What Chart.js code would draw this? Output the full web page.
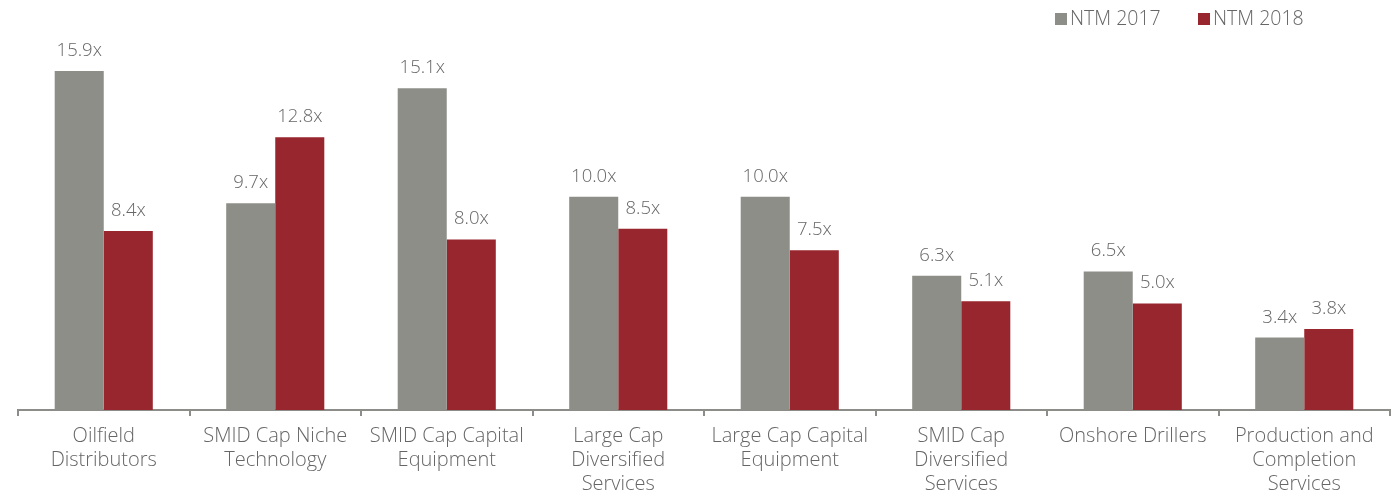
<!DOCTYPE html>
<html>
<head>
<meta charset="utf-8">
<script src="https://cdn.jsdelivr.net/npm/chart.js@4.4.1/dist/chart.umd.min.js"></script>
<style>
  html, body { margin: 0; padding: 0; background: #fff; }
  .wrap { width: 1397px; height: 494px; position: relative; }
</style>
</head>
<body>
<div class="wrap"><canvas id="myChart"></canvas></div>
<script>
const categories = [
    ['Oilfield', 'Distributors'],
    ['SMID Cap Niche', 'Technology'],
    ['SMID Cap Capital', 'Equipment'],
    ['Large Cap', 'Diversified', 'Services'],
    ['Large Cap Capital', 'Equipment'],
    ['SMID Cap', 'Diversified', 'Services'],
    ['Onshore Drillers'],
    ['Production and', 'Completion', 'Services']
]
const ntm2017 = [15.9, 9.7, 15.1, 10.0, 10.0, 6.3, 6.5, 3.4]
const ntm2018 = [8.4, 12.8, 8.0, 8.5, 7.5, 5.1, 5.0, 3.8]
const seriesNames = ['NTM 2017', 'NTM 2018']

const grayCol = '#8e8e88'
const redCol = '#98262e'
const textCol = '#666666'
const fontFam = '"Open Sans", Lato, sans-serif'

// value labels over each bar
const barLabels = {
    id: 'barLabels',
    afterDatasetsDraw(chart) {
        const c = chart.ctx
        c.save()
        c.font = '300 18.5px ' + fontFam
        c.fillStyle = textCol
        c.textAlign = 'center'
        c.textBaseline = 'alphabetic'
        chart.data.datasets.forEach(function (ds, i) {
            chart.getDatasetMeta(i).data.forEach(function (bar, j) {
                c.fillText(ds.data[j].toFixed(1) + 'x', bar.x, bar.y - 15)
            })
        })
        c.restore()
    }
}

// small legend at top right
const topLegend = {
    id: 'topLegend',
    afterDraw(chart) {
        const c = chart.ctx
        c.save()
        c.font = '300 19.5px ' + fontFam
        c.textBaseline = 'middle'
        c.textAlign = 'left'
        let x = 1055
        const y = 19
        chart.data.datasets.forEach(function (ds) {
            c.fillStyle = ds.backgroundColor
            c.fillRect(x, y - 6, 12, 12)
            c.fillStyle = textCol
            c.fillText(ds.label, x + 15, y)
            x += 143
        })
        c.restore()
    }
}

const ctx = document.getElementById('myChart');

new Chart(ctx, {
    type: 'bar',
    data: {
        labels: categories,
        datasets: [
            {
                label: seriesNames[0],
                data: ntm2017,
                backgroundColor: grayCol,
                barPercentage: 1,
                categoryPercentage: 0.572
            },
            {
                label: seriesNames[1],
                data: ntm2018,
                backgroundColor: redCol,
                barPercentage: 1,
                categoryPercentage: 0.572
            }
        ]
    },
    options: {
        responsive: true,
        maintainAspectRatio: false,
        animation: false,
        layout: {
            padding: { left: 18, right: 7, top: 40, bottom: -10 }
        },
        scales: {
            x: {
                grid: {
                    display: true,
                    drawOnChartArea: false,
                    tickLength: 6,
                    color: '#8c8c88',
                    lineWidth: 2
                },
                border: { color: '#8c8c88', width: 2 },
                ticks: {
                    color: textCol,
                    padding: 8,
                    maxRotation: 0,
                    font: { family: fontFam, size: 20, weight: '300', lineHeight: 1.2 }
                }
            },
            y: {
                display: false,
                min: 0,
                max: 17.36
            }
        },
        plugins: {
            legend: { display: false },
            tooltip: { enabled: false }
        }
    },
    plugins: [barLabels, topLegend]
});
</script>
</body>
</html>
